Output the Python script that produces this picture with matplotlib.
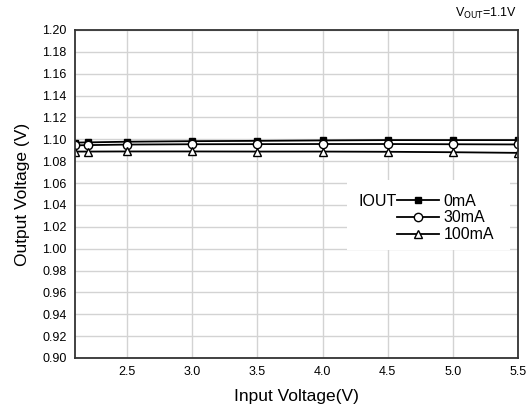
import matplotlib
matplotlib.use('Agg')
import matplotlib.pyplot as plt
from matplotlib.patches import Rectangle
import numpy as np

plt.rcParams['font.family'] = ['Liberation Sans', 'DejaVu Sans']

# Input voltage sweep (V)
vin = [2.1, 2.2, 2.5, 3.0, 3.5, 4.0, 4.5, 5.0, 5.5]
# Output voltage (V) per load current
vout_0ma = [1.0970, 1.0972, 1.0978, 1.0983, 1.0986, 1.0990, 1.0993, 1.0993, 1.0993]
vout_30ma = [1.0945, 1.0947, 1.0952, 1.0955, 1.0956, 1.0957, 1.0957, 1.0955, 1.0953]
vout_100ma = [1.0888, 1.0888, 1.0889, 1.0889, 1.0888, 1.0888, 1.0886, 1.0882, 1.0876]
labels = ['0mA', '30mA', '100mA']
xticks = [2.5, 3.0, 3.5, 4.0, 4.5, 5.0, 5.5]
yticks = np.arange(0.90, 1.2001, 0.02)

fig = plt.figure(figsize=(5.31, 4.13), dpi=100)
ax = fig.add_axes([0.1412, 0.1332, 0.8343, 0.7942])

ax.plot(vin, vout_0ma, color='black', lw=1.3, marker='s', ms=5,
        mfc='black', mec='black', label=labels[0])
ax.plot(vin, vout_30ma, color='black', lw=1.3, marker='o', ms=6,
        mfc='white', mec='black', label=labels[1])
ax.plot(vin, vout_100ma, color='black', lw=1.3, marker='^', ms=6,
        mfc='white', mec='black', label=labels[2])

ax.set_xlim(2.1, 5.5)
ax.set_ylim(0.90, 1.20)
ax.set_xticks(xticks)
ax.set_xticklabels([f'{v:.1f}' for v in xticks])
ax.set_yticks(yticks)
ax.set_yticklabels([f'{v:.2f}' for v in yticks])
ax.tick_params(length=0, labelsize=9, pad=6)
ax.grid(True, color='#d3d3d3', lw=1)
ax.set_axisbelow(True)
for s in ax.spines.values():
    s.set_color('#333333')
    s.set_linewidth(1.3)

ax.set_xlabel('Input Voltage(V)', fontsize=12.5, labelpad=8)
ax.set_ylabel('Output Voltage (V)', fontsize=12.5, labelpad=9)

# white block behind the legend hides the grid
ax.add_patch(Rectangle((0.614, 0.329), 0.368, 0.214, transform=ax.transAxes,
                       facecolor='white', edgecolor='none', zorder=1.5))

leg = ax.legend(loc='center left', bbox_to_anchor=(0.727, 0.427), frameon=False,
                fontsize=11.5, handlelength=2.6, handletextpad=0.3,
                labelspacing=0.12, borderpad=0, borderaxespad=0)
ax.text(0.639, 0.478, 'IOUT', transform=ax.transAxes, fontsize=11.5,
        ha='left', va='center', zorder=6)

fig.text(0.975, 0.985, r'V$_{\mathrm{OUT}}$=1.1V', fontsize=9,
         ha='right', va='top')

fig.savefig('out.png', dpi=100)
